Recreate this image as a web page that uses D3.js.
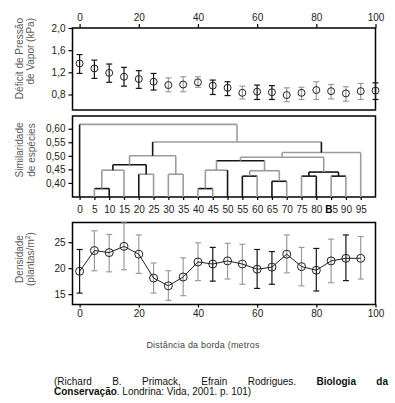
<!DOCTYPE html>
<html lang="pt">
<head>
<meta charset="UTF-8">
<title>Efeito de borda</title>
<script src="https://d3js.org/d3.v7.min.js"></script>
<style>
  body { margin: 0; background: #fff; }
  svg text { font-family: "Liberation Sans", Arial, sans-serif; }
</style>
</head>
<body>
<svg id="chart" width="395" height="403"></svg>
<script>
// --- top panel: vapour pressure deficit (kPa) ---
const vpdDist = [0, 5, 10, 15, 20, 25, 30, 35, 40, 45, 50, 55, 60, 65, 70, 75, 80, 85, 90, 95, 100];
const vpdMean = [1.36, 1.27, 1.19, 1.12, 1.08, 1.03, 0.97, 0.98, 1.02, 0.96, 0.92, 0.83, 0.85, 0.84, 0.79, 0.83, 0.88, 0.86, 0.82, 0.86, 0.87];
const vpdHi   = [1.52, 1.42, 1.35, 1.29, 1.23, 1.18, 1.10, 1.12, 1.12, 1.06, 1.03, 0.95, 0.97, 0.96, 0.92, 0.93, 1.03, 0.98, 0.94, 1.00, 1.01];
const vpdLo   = [1.18, 1.09, 1.02, 0.95, 0.91, 0.88, 0.85, 0.85, 0.93, 0.80, 0.78, 0.72, 0.71, 0.71, 0.67, 0.71, 0.71, 0.72, 0.68, 0.71, 0.71];
const vpdDark = [0, 5, 10, 15, 20, 25, 45, 50, 60, 65, 100];
const vpdTicks = [0.8, 1.2, 1.6, 2.0];

// --- middle panel: species similarity dendrogram ---
const leafDist = [0, 5, 10, 15, 20, 25, 30, 35, 40, 45, 50, 55, 60, 65, 70, 75, 80, 85, 90, 95];
const leafText = ["0", "5", "10", "15", "20", "25", "30", "35", "40", "45", "50", "55", "60", "65", "70", "75", "80", "B5", "90", "95"];
// [merge height, left, right]
const simTree = [0.616, "0",
  [0.551,
    [0.500,
      [0.467, [0.447, [0.379, "5", "10"], "15"], [0.432, "20", "25"]],
      [0.432, "30", "35"]],
    [0.512,
      [0.495,
        [0.482,
          [0.447, [0.379, "40", "45"], "50"],
          [0.445, [0.425, "55", "60"], [0.406, "65", "70"]]],
        [0.440, [0.425, "75", "80"], [0.425, "85", "90"]]],
      "95"]]];
const darkBars = ["5-10", "5-25", "40-45", "40-70", "55-60", "65-70", "75-90", "75-80", "85-90"];
const darkStems = ["0", "10", "20", "50", "55", "65", "80", "5-35", "5-15", "20-25", "40-95", "75-80", "85-90"];
const simTicks = [0.40, 0.45, 0.50, 0.55, 0.60];

// --- bottom panel: plant density (plants/m2) ---
const denDist = [0, 5, 10, 15, 20, 25, 30, 35, 40, 45, 50, 55, 60, 65, 70, 75, 80, 85, 90, 95];
const denMean = [19.4, 23.4, 23.0, 24.2, 22.7, 18.1, 16.6, 18.3, 21.2, 20.8, 21.4, 20.8, 19.8, 20.2, 22.7, 20.3, 19.6, 21.4, 21.9, 21.9];
const denHi   = [23.6, 27.2, 26.5, 28.7, 26.4, 21.0, 19.5, 22.0, 24.9, 24.0, 24.8, 24.6, 23.6, 23.2, 26.4, 24.0, 23.8, 25.6, 26.4, 26.1];
const denLo   = [15.2, 19.5, 19.3, 19.7, 19.0, 15.2, 13.8, 14.7, 17.6, 17.5, 17.9, 16.9, 16.1, 16.9, 19.1, 16.6, 15.6, 17.2, 17.6, 17.9];
const denDark = [0, 45, 60, 65, 80, 90];
const denTicks = [15, 20, 25];

const distTicks = [0, 20, 40, 60, 80, 100];

const citeLine1 = [["(Richard", false], ["B.", false], ["Primack,", false], ["Efrain", false],
  ["Rodrigues.", false], ["Biologia", true], ["da", true]];

const ptBR = d3.formatLocale({ decimal: ",", thousands: ".", grouping: [3], currency: ["R$", ""] });
const GRAY = "#9c9c9c", DARK = "#161616";

const svg = d3.select("#chart");
const boxL = 72.5, boxR = 375.5;
const x = d3.scaleLinear().domain([-2.4, 100]).range([boxL, boxR]);

const yVpd = d3.scaleLinear().domain([0.52, 2.0]).range([110, 28]);
const ySim = d3.scaleLinear().domain([0.348, 0.647]).range([197, 116]);
const yDen = d3.scaleLinear().domain([13.0, 28.8]).range([304.5, 222.5]);

function box(y) {
  const [b, t] = y.range();
  svg.append("rect")
    .attr("x", boxL).attr("y", t)
    .attr("width", boxR - boxL).attr("height", b - t)
    .attr("fill", "none").attr("stroke", "#000").attr("stroke-width", 1.5);
}

function styleAxis(g) {
  g.select(".domain").remove();
  g.selectAll(".tick line").attr("stroke", "#000").attr("stroke-width", 1.2);
  g.selectAll(".tick text").attr("font-size", "10px").attr("fill", "#222");
}

function yTitle(lines, cx, cy, anchor) {
  lines.forEach((t, i) => {
    svg.append("text")
      .attr("transform", `translate(${cx + i * 11.5},${cy}) rotate(-90)`)
      .attr("text-anchor", anchor)
      .attr("font-size", "10px")
      .attr("fill", "#5a5a5a")
      .text(t);
  });
}

function errorBars(dist, mean, lo, hi, dark, y, r) {
  const g = svg.append("g");
  const rows = dist.map((d, i) => ({ d, m: mean[i], lo: lo[i], hi: hi[i], c: dark.includes(d) ? DARK : GRAY }));
  const bars = g.selectAll("g.eb").data(rows).enter().append("g")
    .attr("stroke", d => d.c).attr("stroke-width", 1.2);
  bars.append("line")
    .attr("x1", d => x(d.d)).attr("x2", d => x(d.d))
    .attr("y1", d => y(d.lo)).attr("y2", d => y(d.hi));
  bars.append("line")
    .attr("x1", d => x(d.d) - 3).attr("x2", d => x(d.d) + 3)
    .attr("y1", d => y(d.hi)).attr("y2", d => y(d.hi));
  bars.append("line")
    .attr("x1", d => x(d.d) - 3).attr("x2", d => x(d.d) + 3)
    .attr("y1", d => y(d.lo)).attr("y2", d => y(d.lo));
  return rows;
}

function points(rows, y, r) {
  svg.append("g").selectAll("circle").data(rows).enter().append("circle")
    .attr("cx", d => x(d.d)).attr("cy", d => y(d.m)).attr("r", r)
    .attr("fill", "none").attr("stroke", "#222").attr("stroke-width", 1);
}

// ---------- top panel ----------
box(yVpd);
svg.append("g").attr("transform", `translate(0,${yVpd.range()[1]})`)
  .call(d3.axisTop(x).tickValues(distTicks).tickSize(4).tickPadding(3)).call(styleAxis);
svg.append("g").attr("transform", `translate(${boxL},0)`)
  .call(d3.axisLeft(yVpd).tickValues(vpdTicks).tickSize(4).tickPadding(3).tickFormat(ptBR.format(".1f")))
  .call(styleAxis);
const vpdRows = errorBars(vpdDist, vpdMean, vpdLo, vpdHi, vpdDark, yVpd);
points(vpdRows, yVpd, 3.5);
yTitle(["Déficit de Pressão", "de Vapor (kPa)"], 22.5, 18, "end");

// ---------- middle panel: dendrogram ----------
box(ySim);
svg.append("g").attr("transform", `translate(${boxL},0)`)
  .call(d3.axisLeft(ySim).tickValues(simTicks).tickSize(4).tickPadding(3).tickFormat(ptBR.format(".2f")))
  .call(styleAxis);
const leafAxis = svg.append("g").attr("transform", `translate(0,${ySim.range()[0]})`)
  .call(d3.axisBottom(x).tickValues(leafDist).tickSize(3).tickPadding(6).tickFormat((d, i) => leafText[i]))
  .call(styleAxis);
leafAxis.selectAll(".tick text").filter(function () { return this.textContent.startsWith("B"); })
  .each(function () {
    const t = d3.select(this), s = this.textContent;
    t.text(null);
    t.append("tspan").attr("font-weight", "bold").attr("fill", "#000").text(s[0]);
    t.append("tspan").text(s.slice(1));
  });

const root = d3.hierarchy(simTree, d => Array.isArray(d) ? d.slice(1) : null);
root.eachAfter(n => {
  if (n.children) {
    n.px = d3.mean(n.children, c => c.px);
    n.py = ySim(n.data[0]);
    const lv = n.leaves();
    n.key = lv[0].data + "-" + lv[lv.length - 1].data;
  } else {
    n.px = x(+n.data);
    n.py = ySim.range()[0];
    n.key = n.data;
  }
});
const dg = svg.append("g").attr("fill", "none").attr("stroke-width", 1.6);
root.descendants().forEach(n => {
  if (n.children) {
    const xs = n.children.map(c => c.px);
    dg.append("line")
      .attr("x1", d3.min(xs)).attr("x2", d3.max(xs))
      .attr("y1", n.py).attr("y2", n.py)
      .attr("stroke", darkBars.includes(n.key) ? DARK : GRAY);
  }
  if (n.parent) {
    dg.append("line")
      .attr("x1", n.px).attr("x2", n.px)
      .attr("y1", n.py).attr("y2", n.parent.py)
      .attr("stroke", darkStems.includes(n.key) ? DARK : GRAY);
  }
});
yTitle(["Similaridade", "de espécies"], 23, 150, "middle");

// ---------- bottom panel ----------
box(yDen);
svg.append("g").attr("transform", `translate(0,${yDen.range()[0]})`)
  .call(d3.axisBottom(x).tickValues(distTicks).tickSize(3).tickPadding(2)).call(styleAxis);
svg.append("g").attr("transform", `translate(${boxL},0)`)
  .call(d3.axisLeft(yDen).tickValues(denTicks).tickSize(4).tickPadding(3))
  .call(styleAxis);
const denRows = errorBars(denDist, denMean, denLo, denHi, denDark, yDen);
svg.append("path").datum(denRows)
  .attr("d", d3.line().x(d => x(d.d)).y(d => yDen(d.m)))
  .attr("fill", "none").attr("stroke", "#222").attr("stroke-width", 1);
points(denRows, yDen, 4);
const denTitle = svg.append("g");
yTitle(["Densidade"], 22.5, 259, "middle");
svg.append("text")
  .attr("transform", `translate(34,259) rotate(-90)`)
  .attr("text-anchor", "middle").attr("font-size", "10px").attr("fill", "#5a5a5a")
  .call(t => {
    t.append("tspan").text("(plantas/m");
    t.append("tspan").attr("font-size", "7px").attr("dy", "-4").text("2");
    t.append("tspan").attr("dy", "4").text(")");
  });

svg.append("text")
  .attr("x", 203).attr("y", 348)
  .attr("text-anchor", "middle").attr("font-size", "9px").attr("fill", "#444")
  .attr("letter-spacing", "0.2px")
  .text("Distância da borda (metros");

// ---------- citation ----------
const cg = svg.append("g").attr("font-size", "10px").attr("fill", "#111");
const x0 = 54, x1 = 388;
const words = citeLine1.map(([w, b]) => cg.append("text").attr("y", 384.5)
  .attr("font-weight", b ? "bold" : "normal").text(w));
const widths = words.map(t => t.node().getComputedTextLength());
const gap = (x1 - x0 - d3.sum(widths)) / (words.length - 1);
let cx = x0;
words.forEach((t, i) => { t.attr("x", cx); cx += widths[i] + gap; });
cg.append("text").attr("x", x0).attr("y", 395)
  .call(t => {
    t.append("tspan").attr("font-weight", "bold").text("Conservação");
    t.append("tspan").text(". Londrina: Vida, 2001. p. 101)");
  });
</script>
</body>
</html>
